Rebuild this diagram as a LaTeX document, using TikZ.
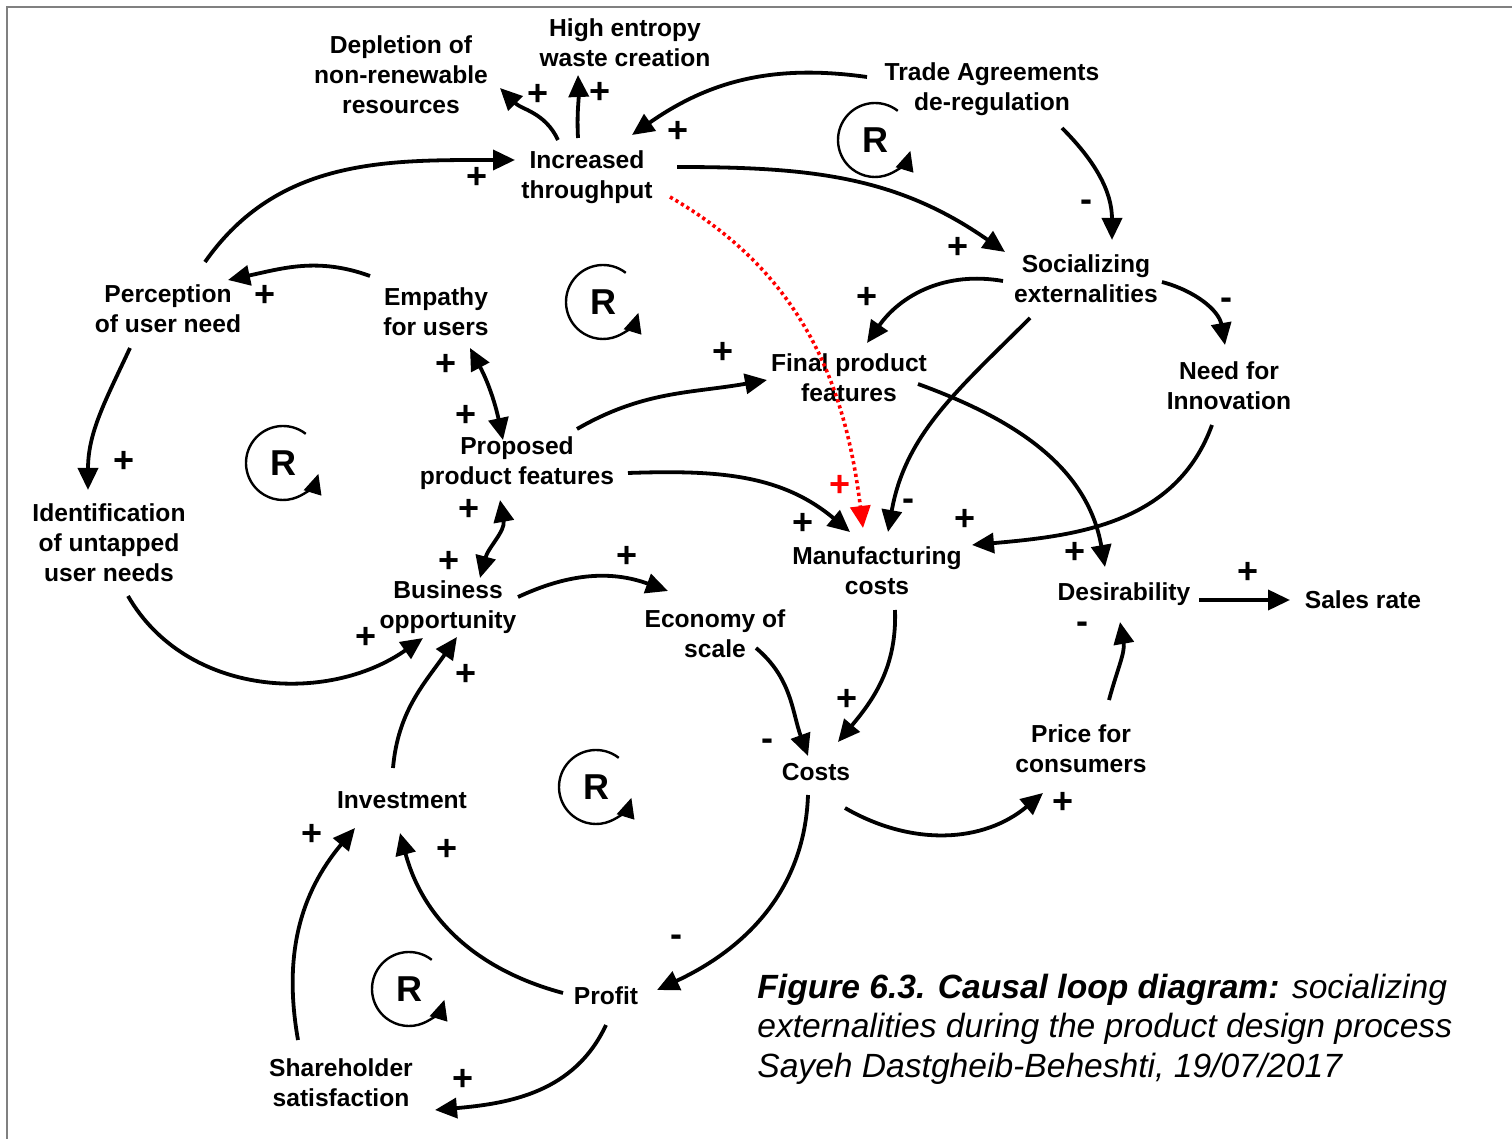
\documentclass[tikz,border=0pt]{standalone}
\usepackage{fontspec}
\setmainfont{Liberation Sans}
\usetikzlibrary{calc,arrows.meta}
\begin{document}
\begin{tikzpicture}[x=0.5pt,y=0.5pt,
  lbl/.style={font=\fontsize{12.3}{15}\selectfont\bfseries, align=center, inner sep=0pt},
  sgn/.style={font=\fontsize{18}{18}\selectfont\bfseries, inner sep=0pt},
  redsgn/.style={sgn, text=red},
  arr/.style={line width=1.9pt, -{Triangle[length=11pt,width=10pt]}},
  darr/.style={line width=1.9pt, {Triangle[length=11pt,width=10pt]}-{Triangle[length=11pt,width=10pt]}},
  redarr/.style={red, line width=1.8pt, dash pattern=on 1.6pt off 1.6pt, -{Triangle[length=11pt,width=10pt]}},
  loopR/.style={font=\fontsize{18}{18}\selectfont\bfseries, inner sep=0pt},
  loopline/.style={line width=1.2pt, -{Triangle[length=10pt,width=9pt]}},
  frameline/.style={draw=gray, line width=1.2pt},
]
\useasboundingbox (0,0) rectangle (1512,-1139);
% frame
\draw[frameline] (6,-7) -- (1512,-7);
\draw[frameline] (7,-7) -- (7,-1139);

% variables
\node[lbl] (depl)   at (401,-75)   {Depletion of\\non-renewable\\resources};
\node[lbl] (high)   at (625,-43)   {High entropy\\waste creation};
\node[lbl] (trade)  at (992,-89)   {Trade Agreements\\de-regulation};
\node[lbl] (inc)    at (587,-177)  {Increased\\throughput};
\node[lbl] (soc)    at (1086,-279) {Socializing\\externalities};
\node[lbl] (perc)   at (168,-309)  {Perception\\of user need};
\node[lbl] (emp)    at (436,-312)  {Empathy\\for users};
\node[lbl] (final)  at (849,-378)  {Final product\\features};
\node[lbl] (need)   at (1229,-386) {Need for\\Innovation};
\node[lbl] (prop)   at (517,-463)  {Proposed\\product features};
\node[lbl] (ident)  at (109,-543)  {Identification\\of untapped\\user needs};
\node[lbl] (manu)   at (877,-571)  {Manufacturing\\costs};
\node[lbl] (desir)  at (1124,-594) {Desirability};
\node[lbl] (sales)  at (1363,-600) {Sales rate};
\node[lbl] (bus)    at (448,-607)  {Business\\opportunity};
\node[lbl] (econ)   at (715,-634)  {Economy of\\scale};
\node[lbl] (price)  at (1081,-749) {Price for\\consumers};
\node[lbl] (costs)  at (816,-772)  {Costs};
\node[lbl] (inv)    at (402,-800)  {Investment};
\node[lbl] (profit) at (606,-996)  {Profit};
\node[lbl] (share)  at (341,-1083) {Shareholder\\satisfaction};

% caption
\node[anchor=west, align=left, inner sep=0pt, font=\fontsize{16.8}{19.8}\selectfont\itshape] (caption) at (757,-1029)
  {\textbf{Figure 6.3. Causal loop diagram:} socializing\\externalities during the product design process\\Sayeh Dastgheib-Beheshti, 19/07/2017};

% causal links
\draw[arr] ($(inc)+(-29,37)$) to[out=115,in=-45] ($(depl)+(99,-13)$);
\draw[arr] ($(inc)+(-9,39)$) to[out=93,in=-88] ($(high)+(-47,-32)$);
\draw[arr] ($(trade)+(-125,12)$) to[out=172,in=35] ($(inc)+(45,42)$);
\draw[arr] ($(perc)+(37,47)$) to[out=55,in=180] ($(inc)+(-72,17)$);
\draw[arr] ($(inc)+(90,10)$) to[out=0,in=145] ($(soc)+(-81,27)$);
\draw[arr] ($(trade)+(70,-39)$) to[out=-45,in=90] ($(soc)+(26,39)$);
\draw[arr] ($(emp)+(-66,36)$) to[out=160,in=12] ($(perc)+(60,29)$);
\draw[arr] ($(perc)+(-38,-39)$) to[out=-115,in=90] ($(ident)+(-21,53)$);
\draw[darr] ($(emp)+(34,-36)$) to[out=-62,in=102] ($(prop)+(-14,23)$);
\draw[arr] ($(soc)+(-83,-2)$) to[out=170,in=55] ($(final)+(18,35)$);
\draw[arr] ($(soc)+(76,-3)$) to[out=-15,in=100] ($(need)+(-4,41)$);
\draw[arr] ($(soc)+(-56,-39)$) to[out=-135,in=80] ($(manu)+(11,39)$);
\draw[arr] ($(prop)+(60,34)$) to[out=30,in=190] ($(final)+(-82,-2)$);
\draw[arr] ($(prop)+(111,-10)$) to[out=2,in=140] ($(manu)+(-27,39)$);
\draw[redarr] ($(inc)+(83,-20)$) to[out=-30,in=97] ($(manu)+(-14,43)$);
\draw[arr] ($(need)+(-17,-39)$) to[out=-110,in=5] ($(manu)+(95,26)$);
\draw[arr] ($(final)+(69,-6)$) to[out=-20,in=100] ($(desir)+(-19,27)$);
\draw[darr] ($(prop)+(-17,-37)$) to[out=-80,in=75] ($(bus)+(32,29)$);
\draw[arr] ($(ident)+(19,-53)$) to[out=-60,in=-145] ($(bus)+(-25,-31)$);
\draw[arr] ($(bus)+(70,10)$) to[out=25,in=160] ($(econ)+(-47,43)$);
\draw[arr] ($(manu)+(18,-39)$) to[out=-88,in=50] ($(costs)+(22,30)$);
\draw[arr] ($(econ)+(41,-14)$) to[out=-40,in=110] ($(costs)+(-8,16)$);
\draw[arr] ($(costs)+(29,-36)$) to[out=-30,in=-140] ($(price)+(-38,-44)$);
\draw[arr] ($(price)+(28,49)$) to[out=75,in=-80] ($(desir)+(-4,-28)$);
\draw[arr] ($(desir)+(75,-6)$) -- ($(sales)+(-73,0)$);
\draw[arr] ($(inv)+(-9,32)$) to[out=85,in=-125] ($(bus)+(9,-30)$);
\draw[arr] ($(costs)+(-8,-23)$) to[out=-92,in=25] ($(profit)+(51,6)$);
\draw[arr] ($(profit)+(-43,3)$) to[out=165,in=-75] ($(inv)+(-2,-33)$);
\draw[arr] ($(profit)+(0,-29)$) to[out=-115,in=5] ($(share)+(94,-27)$);
\draw[arr] ($(share)+(-43,43)$) to[out=100,in=-130] ($(inv)+(-47,-28)$);

% polarities
\node[sgn] (p1)  at (538,-95)   {+};
\node[sgn] (p2)  at (600,-93)   {+};
\node[sgn] (p3)  at (678,-132)  {+};
\node[sgn] (p4)  at (477,-178)  {+};
\node[sgn] (p5)  at (958,-248)  {+};
\node[sgn] (m1)  at (1086,-206) {-};
\node[sgn] (p6)  at (265,-296)  {+};
\node[sgn] (p7)  at (124,-462)  {+};
\node[sgn] (p8)  at (446,-365)  {+};
\node[sgn] (p9)  at (466,-416)  {+};
\node[sgn] (p10) at (867,-298)  {+};
\node[sgn] (m2)  at (1226,-304) {-};
\node[sgn] (m3)  at (908,-505)  {-};
\node[sgn] (p11) at (723,-353)  {+};
\node[sgn] (p12) at (803,-524)  {+};
\node[redsgn] (p13) at (840,-486) {+};
\node[sgn] (p14) at (965,-520)  {+};
\node[sgn] (p15) at (1075,-553) {+};
\node[sgn] (p16) at (469,-510)  {+};
\node[sgn] (p17) at (449,-562)  {+};
\node[sgn] (p18) at (366,-638)  {+};
\node[sgn] (p19) at (466,-675)  {+};
\node[sgn] (p20) at (627,-557)  {+};
\node[sgn] (p21) at (847,-700)  {+};
\node[sgn] (m4)  at (767,-745)  {-};
\node[sgn] (p22) at (1063,-803) {+};
\node[sgn] (m5)  at (1082,-628) {-};
\node[sgn] (p23) at (1248,-573) {+};
\node[sgn] (m6)  at (676,-941)  {-};
\node[sgn] (p24) at (447,-850)  {+};
\node[sgn] (p25) at (463,-1080) {+};
\node[sgn] (p26) at (312,-835)  {+};

% reinforcing loop markers
\foreach \nm/\px/\py in {r1/875/140, r2/603/302, r3/283/463, r4/596/787, r5/409/989} {
  \node[loopR] (\nm) at (\px,-\py) {R};
  \draw[loopline] (\nm.center) ++(52:18.5pt) arc[start angle=52, end angle=343, radius=18.5pt];
}
\end{tikzpicture}
\end{document}
